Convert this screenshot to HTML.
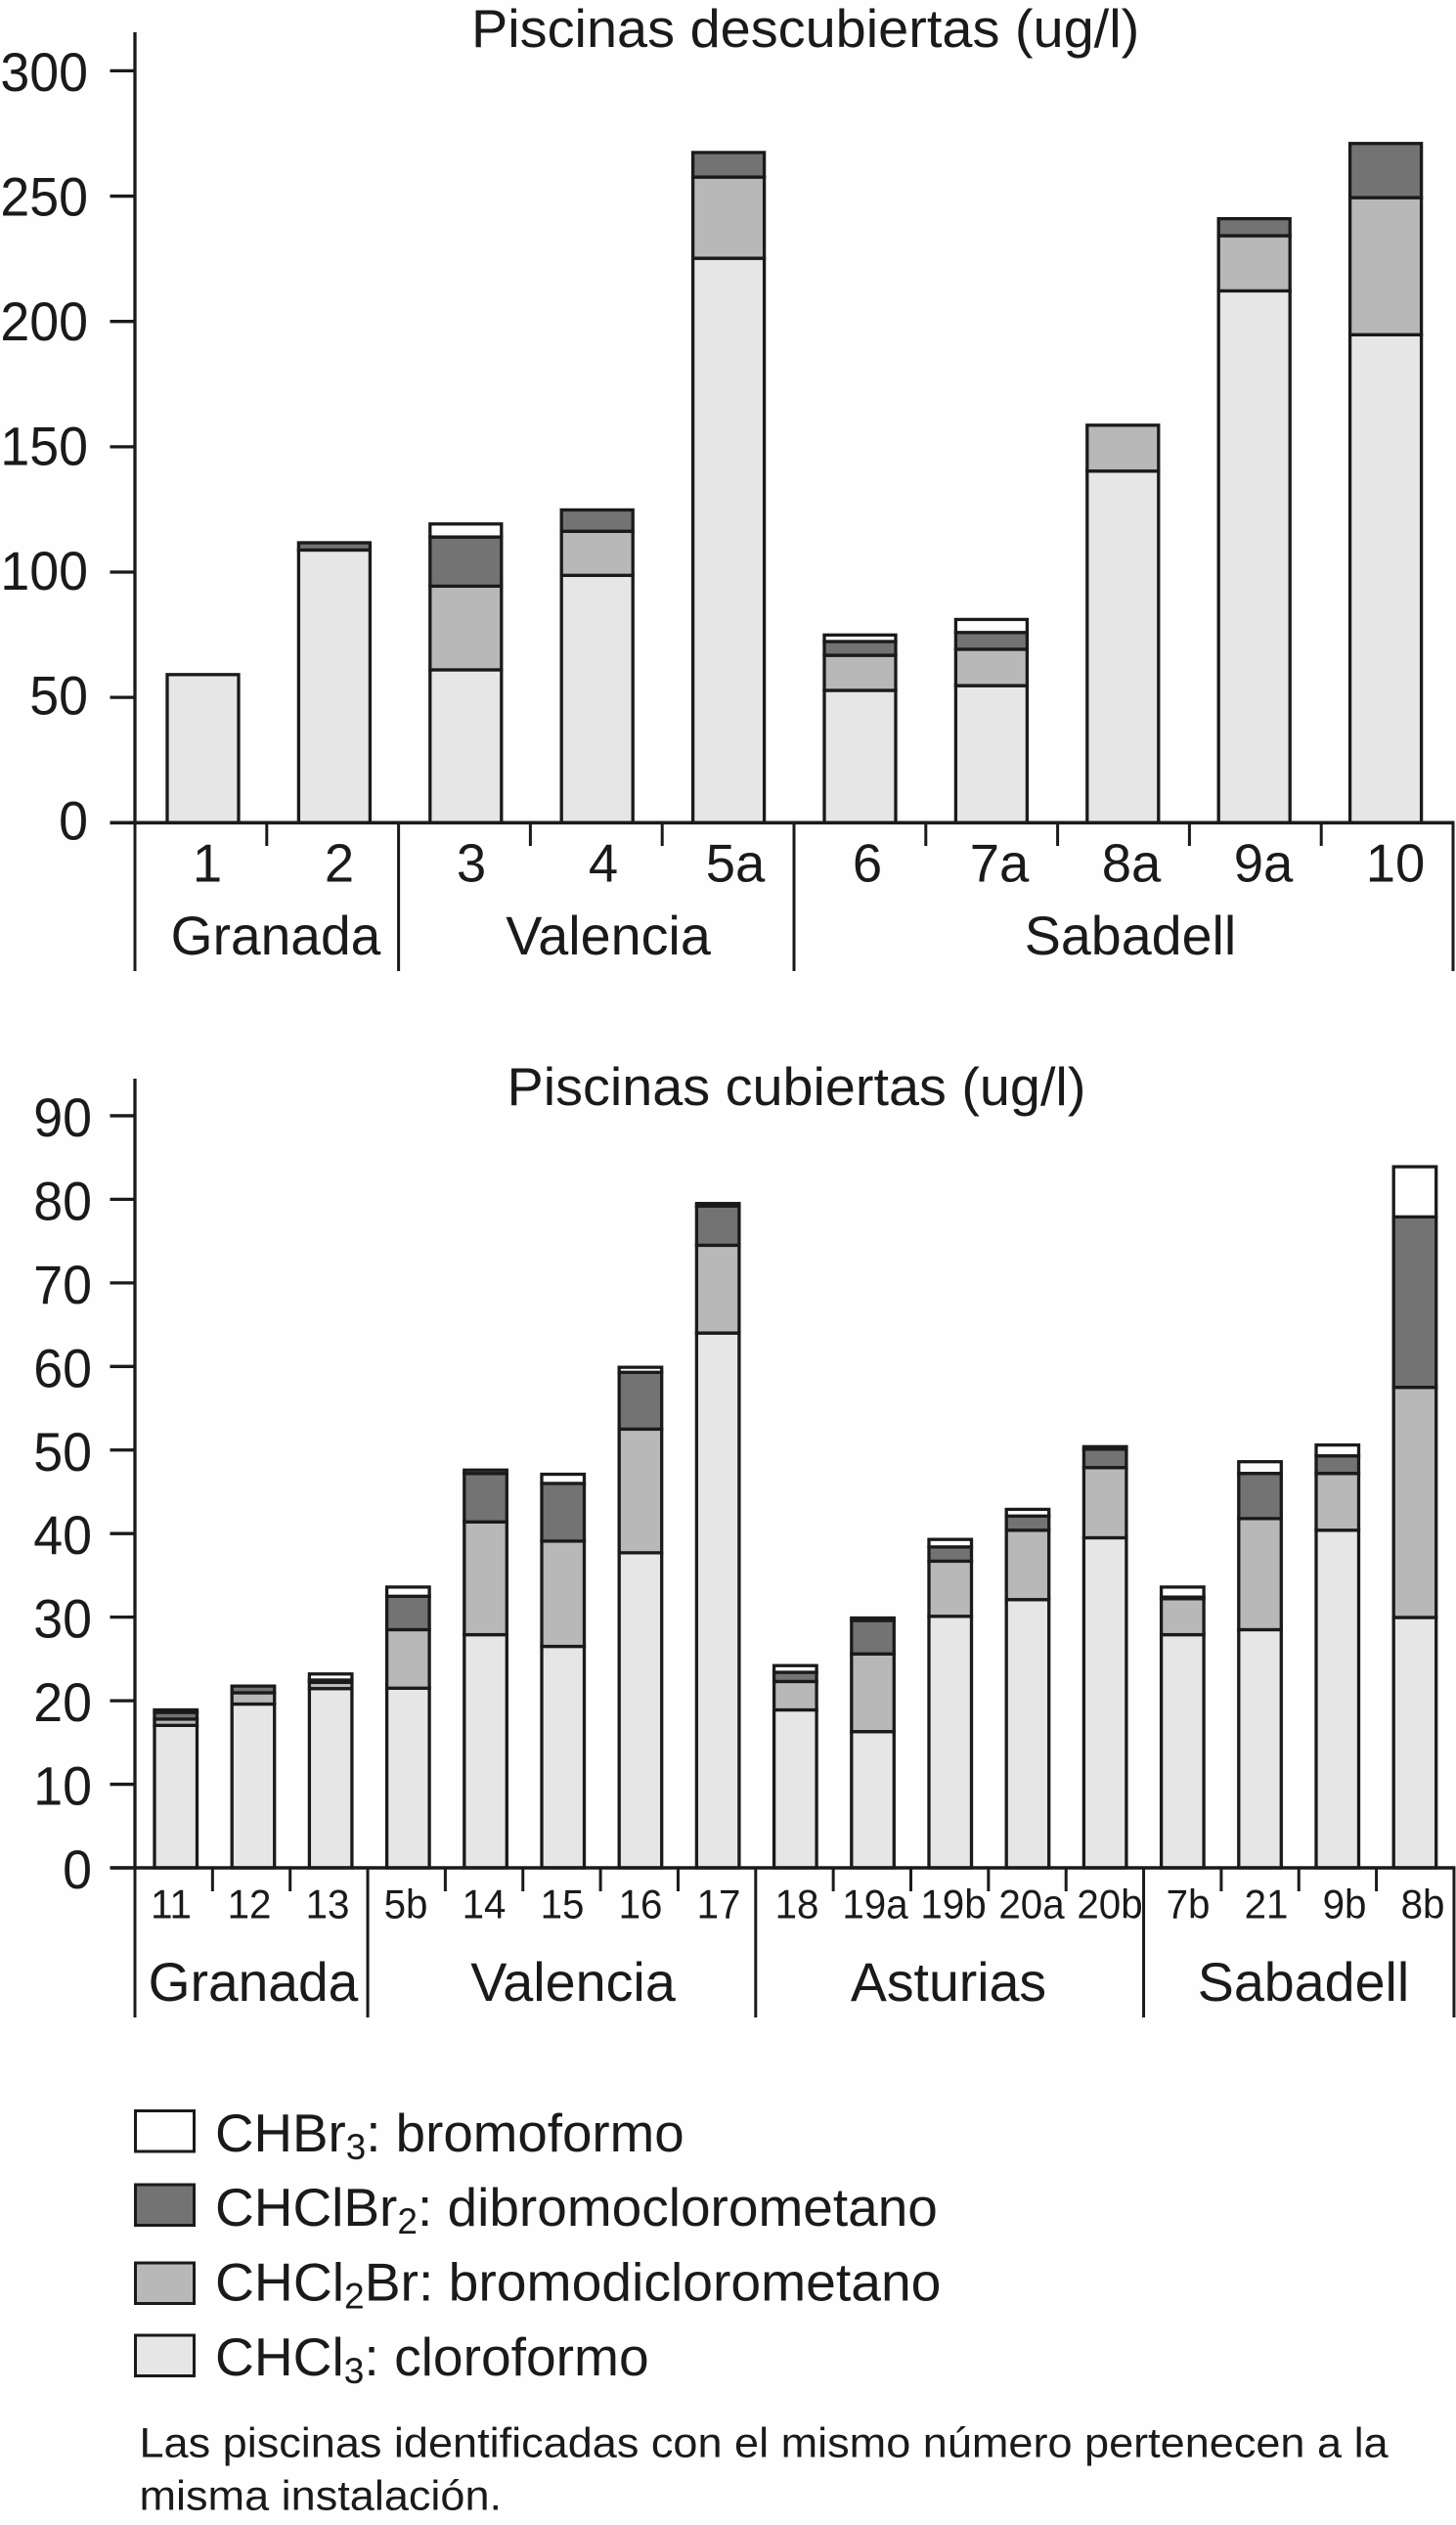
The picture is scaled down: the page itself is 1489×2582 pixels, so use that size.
<!DOCTYPE html>
<html lang="es">
<head>
<meta charset="utf-8">
<title>Piscinas: trihalometanos</title>
<style>
html,body{margin:0;padding:0;background:#fff;}
svg{display:block;}
text{font-family:"Liberation Sans",Arial,sans-serif;fill:#1a1a1a;}
</style>
</head>
<body>
<svg id="chart" xmlns="http://www.w3.org/2000/svg" width="1489" height="2582" viewBox="0 0 1489 2582">
  <rect x="0" y="0" width="1489" height="2582" fill="#fefefe"/>
  <text transform="translate(482,48) scale(1.016,1)" font-size="55">Piscinas descubiertas (ug/l)</text>
  <text transform="translate(518.5,1130) scale(1.014,1)" font-size="55">Piscinas cubiertas (ug/l)</text>

  <text transform="translate(282,976) scale(.985,1)" font-size="56" text-anchor="middle">Granada</text>
  <text transform="translate(622,976) scale(.995,1)" font-size="56" text-anchor="middle">Valencia</text>
  <text transform="translate(1156,976) scale(.993,1)" font-size="56" text-anchor="middle">Sabadell</text>

  <text transform="translate(259,2046) scale(.985,1)" font-size="56" text-anchor="middle">Granada</text>
  <text transform="translate(586,2046) scale(.995,1)" font-size="56" text-anchor="middle">Valencia</text>
  <text transform="translate(970,2046) scale(.99,1)" font-size="56" text-anchor="middle">Asturias</text>
  <text transform="translate(1333,2046) scale(.993,1)" font-size="56" text-anchor="middle">Sabadell</text>

  <g>
    <rect x="138.5" y="2158.5" width="60" height="41.5" fill="#ffffff" stroke="#1a1a1a" stroke-width="3"/>
    <text transform="translate(220,2200) scale(.995,1)" font-size="55">CHBr<tspan font-size="37" dy="8">3</tspan><tspan dy="-8">: bromoformo</tspan></text>
    <rect x="138.5" y="2234" width="60" height="41.5" fill="#737373" stroke="#1a1a1a" stroke-width="3"/>
    <text transform="translate(220,2276) scale(1,1)" font-size="55">CHClBr<tspan font-size="37" dy="8">2</tspan><tspan dy="-8">: dibromoclorometano</tspan></text>
    <rect x="138.5" y="2314" width="60" height="41.5" fill="#b8b8b8" stroke="#1a1a1a" stroke-width="3"/>
    <text transform="translate(220,2352.5) scale(1.005,1)" font-size="55">CHCl<tspan font-size="37" dy="8">2</tspan><tspan dy="-8">Br: bromodiclorometano</tspan></text>
    <rect x="138.5" y="2388" width="60" height="41.5" fill="#e6e6e6" stroke="#1a1a1a" stroke-width="3"/>
    <text transform="translate(220,2429) scale(1.003,1)" font-size="55">CHCl<tspan font-size="37" dy="8">3</tspan><tspan dy="-8">: cloroformo</tspan></text>
  </g>

  <text transform="translate(142.5,2512.5) scale(1.048,1)" font-size="43">Las piscinas identificadas con el mismo número pertenecen a la</text>
  <text transform="translate(142.5,2566.5) scale(1.048,1)" font-size="43">misma instalación.</text>
</svg>

<script>
// Outdoor pools chart data
const outdoorCategories = ['1','2','3','4','5a','6','7a','8a','9a','10'];
const outdoorChcl3   = [59.1,108.8,61,98.7,225.2,52.8,54.7,140.3,212.2,194.7];
const outdoorChcl2br = [0,0,33.4,17.6,32.4,14,14.5,18.3,22,54.7];
const outdoorChclbr2 = [0,2.9,19.6,8.5,9.8,5.5,6.7,0,6.8,21.6];
const outdoorChbr3   = [0,0,5.2,0,0,2.6,5.2,0,0,0];
const outdoorTicks   = [0,50,100,150,200,250,300];
const outdoorGroupBreaks = [0,2,5,10];

// Indoor pools chart data
const indoorCategories = ['11','12','13','5b','14','15','16','17','18','19a','19b','20a','20b','7b','21','9b','8b'];
const indoorChcl3   = [17.05,19.6,21.45,21.5,27.9,26.5,37.7,64,18.9,16.3,30.1,32.1,39.5,27.9,28.5,40.4,29.96];
const indoorChcl2br = [0.75,1.35,0.75,7,13.5,12.6,14.8,10.5,3.4,9.3,6.6,8.3,8.4,4.3,13.3,6.8,27.54];
const indoorChclbr2 = [0.8,0.8,0.27,4,5.8,6.9,6.8,4.7,1.1,4,1.7,1.7,2.2,0.2,5.4,2.1,20.4];
const indoorChbr3   = [0.3,0,0.73,1.1,0.4,1.1,0.6,0.3,0.8,0.3,0.9,0.8,0.3,1.2,1.4,1.3,6];
const indoorTicks   = [0,10,20,30,40,50,60,70,80,90];
const indoorGroupBreaks = [0,3,8,13,17];

const seriesKeys = ['chcl3','chcl2br','chclbr2','chbr3'];

const SVGNS = 'http://www.w3.org/2000/svg';
const INK = '#1a1a1a';
const FILLS = ['#e6e6e6','#b8b8b8','#737373','#ffffff'];
const root = document.getElementById('chart');

function addLine(x1,y1,x2,y2,w){
  const l = document.createElementNS(SVGNS,'line');
  l.setAttribute('x1',x1); l.setAttribute('y1',y1);
  l.setAttribute('x2',x2); l.setAttribute('y2',y2);
  l.setAttribute('stroke',INK); l.setAttribute('stroke-width',w);
  root.appendChild(l);
  return l;
}
function addText(s,x,y,size,anchor,sx){
  const t = document.createElementNS(SVGNS,'text');
  t.setAttribute('transform','translate('+x+','+y+') scale('+sx+',1)');
  t.setAttribute('font-size',size);
  t.setAttribute('text-anchor',anchor);
  t.textContent = s;
  root.appendChild(t);
  return t;
}
function drawChart(o){
  // stacked bars
  o.categories.forEach(function(cat,i){
    let base = 0;
    o.series.forEach(function(vals,s){
      const v = vals[i];
      if(!(v>0)) return;
      const top = base + v;
      const r = document.createElementNS(SVGNS,'rect');
      r.setAttribute('x',o.xBar(i));
      r.setAttribute('width',o.barWidth);
      r.setAttribute('y',o.yScale(top));
      r.setAttribute('height',o.yScale(base)-o.yScale(top));
      r.setAttribute('fill',FILLS[s]);
      r.setAttribute('stroke',INK);
      r.setAttribute('stroke-width',3.3);
      
      
      root.appendChild(r);
      base = top;
    });
    const lab = addText(cat,o.xLabel(i),o.labelY,o.labelSize,'middle',o.labelScale);
    
    
  });
  // y axis
  const ya = addLine(138,o.axisTop,138,o.y0+1,3.3);
  
  
  o.ticks.forEach(function(v){
    const y = o.yScale(v);
    const tk = addLine(112.5,y,138,y,3.3);
    
    
    const tl = addText(String(v),o.yLabelX,o.yLabelY(v),56,'end',0.96);
    
    
  });
  // x axis
  const xa = addLine(112.5,o.y0,o.xTick(o.categories.length)+1.5,o.y0,3.6);
  
  
  for(let i=0;i<=o.categories.length;i++){
    const isGroup = o.breaks.indexOf(i)>=0;
    const tk = addLine(o.xTick(i),o.y0,o.xTick(i),isGroup?o.groupBottom:o.tickBottom,3);
    
    
  }
}

function yOutdoor(v){ return 841.3 - v*2.563; }
function yIndoor(v){ return 1910 - v*8.545; }

drawChart({
  prefix:'outdoor',
  categories:outdoorCategories,
  series:[outdoorChcl3,outdoorChcl2br,outdoorChclbr2,outdoorChbr3],
  ticks:outdoorTicks,
  breaks:outdoorGroupBreaks,
  yScale:yOutdoor,
  yLabelY:function(v){return yOutdoor(v)+17+v*0.0113;},
  y0:841.3,
  axisTop:33,
  barWidth:73,
  xBar:function(i){return 171+134.4*i;},
  xTick:function(i){return 138+134.8*i;},
  xLabel:function(i){return 212+135*i;},
  labelY:901.5,
  labelSize:55,
  labelScale:0.99,
  yLabelX:90,
  tickBottom:865,
  groupBottom:993
});
drawChart({
  prefix:'indoor',
  categories:indoorCategories,
  series:[indoorChcl3,indoorChcl2br,indoorChclbr2,indoorChbr3],
  ticks:indoorTicks,
  breaks:indoorGroupBreaks,
  yScale:yIndoor,
  yLabelY:function(v){return yIndoor(v)+21;},
  y0:1910,
  axisTop:1103,
  barWidth:43.5,
  xBar:function(i){return 158+79.2*i;},
  xTick:function(i){return 138+79.35*i;},
  xLabel:function(i){return 175+80*i;},
  labelY:1961.5,
  labelSize:42,
  labelScale:0.96,
  yLabelX:94,
  tickBottom:1934,
  groupBottom:2063
});
</script>
</body>
</html>
